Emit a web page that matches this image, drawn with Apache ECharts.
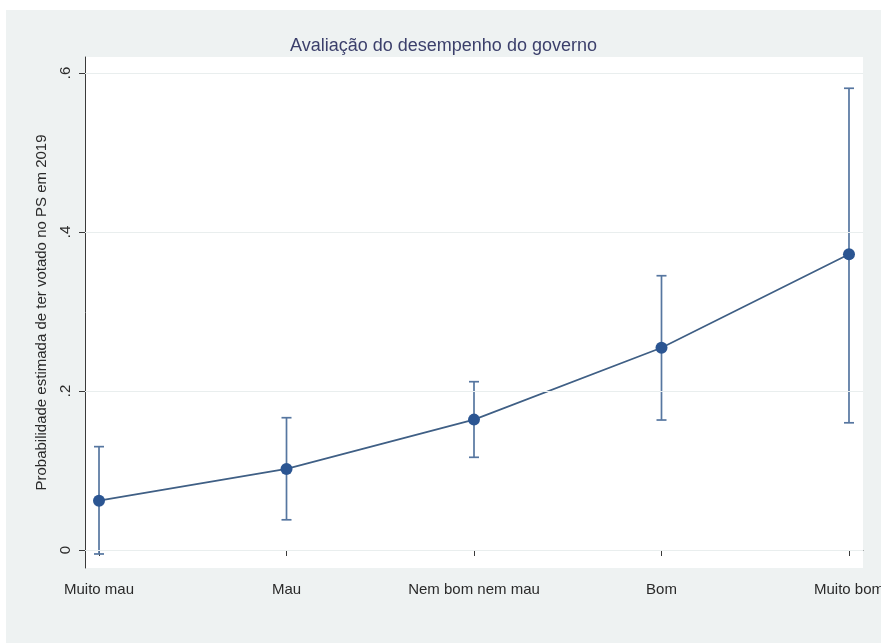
<!DOCTYPE html>
<html>
<head>
<meta charset="utf-8">
<script src="https://cdn.jsdelivr.net/npm/echarts@6/dist/echarts.min.js"></script>
<style>
  html, body { margin: 0; padding: 0; background: #ffffff; width: 881px; height: 643px; overflow: hidden; }
  #chart { position: absolute; left: 6px; top: 10px; width: 875px; height: 633px; background: #eef2f2; }
</style>
</head>
<body>
<div id="chart"></div>
<script>
// Categories of government performance rating
const categories = ['Muito mau', 'Mau', 'Nem bom nem mau', 'Bom', 'Muito bom'];
// Predicted probability of PS vote and 95% confidence bounds
const estimates = [0.062, 0.102, 0.164, 0.2545, 0.372];
const lowerCI   = [-0.005, 0.038, 0.1166, 0.1635, 0.160];
const upperCI   = [0.130, 0.1664, 0.2117, 0.345, 0.5808];
// Y tick labels
const yTicks = [0, 0.2, 0.4, 0.6];

const xPos = categories.map((_, i) => i + 1);
const lineData = estimates.map((v, i) => [xPos[i], v]);
const ciData = estimates.map((_, i) => [xPos[i], lowerCI[i], upperCI[i]]);

const markerColor = '#2b5592';
const ciColor = '#5676a0';
const fontFam = '"Liberation Sans", Arial, Helvetica, sans-serif';

const chart = echarts.init(document.getElementById('chart'), null, { renderer: 'canvas' });

chart.setOption({
  backgroundColor: '#eef2f2',
  animation: false,
  title: {
    text: 'Avaliação do desempenho do governo',
    left: 'center',
    top: 22,
    textStyle: { color: '#3b3f6b', fontSize: 18, fontWeight: 'normal', fontFamily: fontFam }
  },
  grid: {
    left: 79, right: 18, top: 47, bottom: 75,
    containLabel: false,
    outerBoundsMode: 'none',
    show: true, backgroundColor: '#ffffff', borderWidth: 0
  },
  xAxis: {
    type: 'value',
    min: 0.9253,
    max: 5.0747,
    axisLine: { show: true, lineStyle: { color: '#3a3a3a', width: 1 } },
    axisTick: { show: true, customValues: xPos, length: 6, lineStyle: { color: '#3a3a3a' } },
    axisLabel: {
      customValues: xPos,
      formatter: v => categories[Math.round(v) - 1] || '',
      color: '#2a2a2a', fontSize: 15, fontFamily: fontFam, margin: 14,
      hideOverlap: false
    },
    splitLine: { show: false }
  },
  yAxis: {
    type: 'value',
    min: -0.02264,
    max: 0.62013,
    name: 'Probabilidade estimada de ter votado no PS em 2019',
    nameLocation: 'middle',
    nameRotate: 90,
    nameGap: 36,
    nameTextStyle: { color: '#2a2a2a', fontSize: 15, fontFamily: fontFam },
    axisLine: { show: true, lineStyle: { color: '#3a3a3a', width: 1 } },
    axisTick: { show: true, customValues: yTicks, length: 6, lineStyle: { color: '#3a3a3a' } },
    axisLabel: {
      customValues: yTicks,
      rotate: 90,
      formatter: v => (Math.abs(v) < 1e-9 ? '0' : String(Math.round(v * 10) / 10).replace(/^0/, '')),
      color: '#2a2a2a', fontSize: 15, fontFamily: fontFam, margin: 12
    },
    splitLine: { show: false }
  },
  series: [
    {
      // horizontal reference lines at the labelled ticks
      type: 'line',
      data: [],
      silent: true,
      markLine: {
        silent: true,
        symbol: 'none',
        label: { show: false },
        lineStyle: { color: '#e9eeee', width: 1, type: 'solid' },
        data: yTicks.map(v => ({ yAxis: v }))
      },
      z: 1
    },
    {
      // confidence intervals with caps
      type: 'custom',
      data: ciData,
      z: 2,
      renderItem: function (params, api) {
        const x = api.value(0);
        const lo = api.coord([x, api.value(1)]);
        const hi = api.coord([x, api.value(2)]);
        const cap = 5;
        const style = { stroke: ciColor, lineWidth: 1.7 };
        return {
          type: 'group',
          children: [
            { type: 'line', shape: { x1: lo[0], y1: lo[1], x2: hi[0], y2: hi[1] }, style: style },
            { type: 'line', shape: { x1: lo[0] - cap, y1: lo[1], x2: lo[0] + cap, y2: lo[1] }, style: style },
            { type: 'line', shape: { x1: hi[0] - cap, y1: hi[1], x2: hi[0] + cap, y2: hi[1] }, style: style }
          ]
        };
      }
    },
    {
      type: 'line',
      data: lineData,
      symbol: 'circle',
      symbolSize: 12,
      lineStyle: { color: '#3f5f85', width: 1.7 },
      itemStyle: { color: markerColor },
      z: 3
    }
  ]
});
</script>
</body>
</html>
